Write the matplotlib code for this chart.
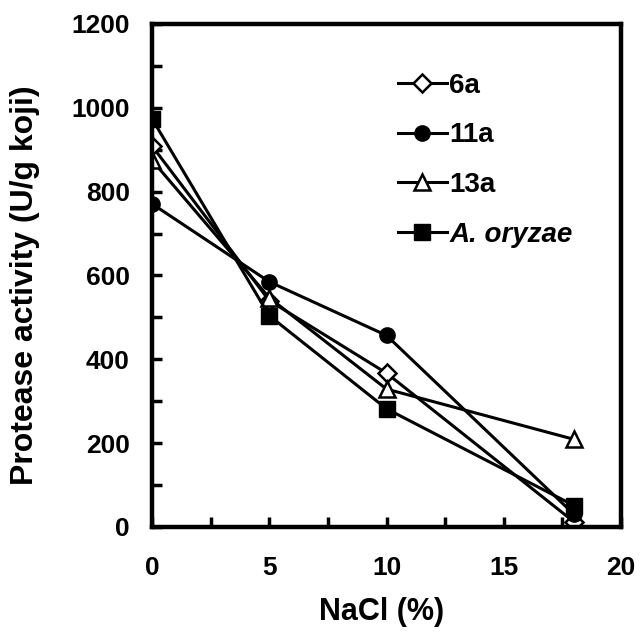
import matplotlib
matplotlib.use("Agg")
import matplotlib.pyplot as plt
from matplotlib.ticker import MultipleLocator

plt.rcParams['font.family'] = ['Liberation Sans', 'DejaVu Sans']
plt.rcParams['font.weight'] = 'bold'

nacl = [0, 5, 10, 18]
s6a = [909, 540, 367, 12]
s11a = [771, 585, 457, 30]
s13a = [875, 547, 329, 209]
oryzae = [974, 504, 282, 51]
labels = ['6a', '11a', '13a', 'A. oryzae']

fig = plt.figure(figsize=(6.43, 6.39), dpi=100)
ax = fig.add_axes([0.2364, 0.1753, 0.7294, 0.7872])

lw = 2.2
ax.plot(nacl, s6a, color='k', lw=lw, marker='D', ms=9, mfc='white', mec='k', mew=1.8, label=labels[0])
ax.plot(nacl, s11a, color='k', lw=lw, marker='o', ms=11, mfc='k', mec='k', label=labels[1])
ax.plot(nacl, s13a, color='k', lw=lw, marker='^', ms=12, mfc='white', mec='k', mew=1.8, label=labels[2])
ax.plot(nacl, oryzae, color='k', lw=lw, marker='s', ms=11, mfc='k', mec='k', label=labels[3])

ax.set_xlim(0, 20)
ax.set_ylim(0, 1200)
ax.xaxis.set_major_locator(MultipleLocator(5))
ax.xaxis.set_minor_locator(MultipleLocator(2.5))
ax.yaxis.set_major_locator(MultipleLocator(200))
ax.yaxis.set_minor_locator(MultipleLocator(100))
ax.tick_params(which='both', direction='in', width=2.5, length=7, top=False, right=False, labelsize=19)
ax.tick_params(axis='x', pad=21)
ax.tick_params(axis='y', pad=16)
for sp in ax.spines.values():
    sp.set_linewidth(3.2)

ax.set_xlabel('NaCl (%)', fontsize=22, fontweight='bold', va='center')
ax.set_ylabel('Protease activity (U/g koji)', fontsize=23, fontweight='bold', va='center')
ax.xaxis.set_label_coords(0.49, -0.169)
ax.yaxis.set_label_coords(-0.271, 0.48)

leg = ax.legend(loc='upper left', bbox_to_anchor=(0.5, 0.925), frameon=False, fontsize=20,
                handlelength=1.76, labelspacing=0.85, handletextpad=0.1, borderaxespad=0)
leg.get_texts()[3].set_fontstyle('italic')

fig.savefig('out.png', dpi=100)
